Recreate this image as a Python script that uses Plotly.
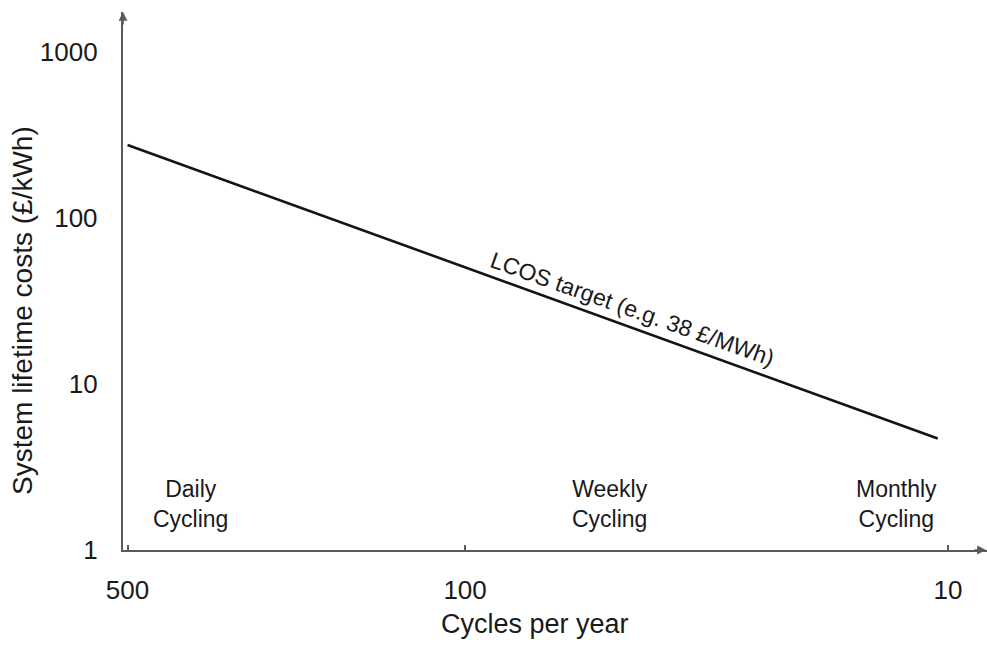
import math
import plotly.graph_objects as go

# LCOS target line: system lifetime cost vs. cycles per year (log-log)
cycles = [500, 10.5]
lifetime_cost = [275, 4.7]

x_tick_vals = [500, 100, 10]
x_tick_text = ["500", "100", "10"]
y_tick_vals = [1, 10, 100, 1000]
y_tick_text = ["1", "10", "100", "1000"]

regime_labels = ["Daily<br>Cycling", "Weekly<br>Cycling", "Monthly<br>Cycling"]
regime_cycles = [370, 50, 12.8]
regime_cost = [1.9, 1.9, 1.9]

line_label = "LCOS target (e.g. 38 £/MWh)"
line_label_pos = (45, 28.5)

FONT = "Liberation Sans, Arial, sans-serif"
TEXT = "#1a1a1a"
AXIS = "#5a5a5a"

fig = go.Figure()
fig.add_trace(go.Scatter(
    x=cycles, y=lifetime_cost, mode="lines",
    line=dict(color="#141414", width=2.6),
    showlegend=False, hoverinfo="skip",
))

for label, xc, yc in zip(regime_labels, regime_cycles, regime_cost):
    fig.add_annotation(
        x=math.log10(xc), y=math.log10(yc), text=label, showarrow=False,
        font=dict(family=FONT, size=23, color=TEXT), align="center",
        xanchor="center", yanchor="middle",
    )

fig.add_annotation(
    x=math.log10(line_label_pos[0]), y=math.log10(line_label_pos[1]),
    text=line_label, showarrow=False, textangle=19.5,
    font=dict(family=FONT, size=23, color=TEXT),
    xanchor="center", yanchor="middle",
)

# axis titles
fig.add_annotation(
    xref="paper", yref="paper", x=(535 - 123) / 864, y=-(624 - 550) / 538,
    xanchor="center", yanchor="middle",
    text="Cycles per year", showarrow=False,
    font=dict(family=FONT, size=27, color=TEXT),
)
fig.add_annotation(
    xref="paper", yref="paper", x=-(123 - 22) / 864, y=(550 - 311) / 538,
    xanchor="center", yanchor="middle",
    text="System lifetime costs (£/kWh)", showarrow=False, textangle=-90,
    font=dict(family=FONT, size=28, color=TEXT),
)

# arrowheads at the ends of both axes
fig.add_annotation(
    xref="paper", yref="paper", x=0, y=1, ax=0, ay=14,
    showarrow=True, arrowhead=2, arrowsize=1.1, arrowwidth=1.6, arrowcolor=AXIS, text="",
)
fig.add_annotation(
    xref="paper", yref="paper", x=1, y=0, ax=-14, ay=0,
    showarrow=True, arrowhead=2, arrowsize=1.1, arrowwidth=1.6, arrowcolor=AXIS, text="",
)

fig.update_layout(
    width=987, height=645,
    margin=dict(l=123, r=0, t=12, b=95),
    paper_bgcolor="white", plot_bgcolor="white",
    font=dict(family=FONT, color=TEXT),
    xaxis=dict(
        type="log", range=[math.log10(511), math.log10(8.3)],
        tickvals=x_tick_vals, ticktext=x_tick_text,
        tickfont=dict(size=26, color=TEXT),
        showline=True, linecolor=AXIS, linewidth=2.4,
        ticks="inside", ticklen=5, tickwidth=1.5, tickcolor=AXIS,
        ticklabelstandoff=16,
        showgrid=False, zeroline=False,
    ),
    yaxis=dict(
        type="log", range=[0, 3.241],
        tickvals=y_tick_vals, ticktext=y_tick_text,
        tickfont=dict(size=26, color=TEXT),
        showline=True, linecolor=AXIS, linewidth=2.4,
        ticks="", ticklabelstandoff=18,
        showgrid=False, zeroline=False,
    ),
)

fig.write_html("out.html")
